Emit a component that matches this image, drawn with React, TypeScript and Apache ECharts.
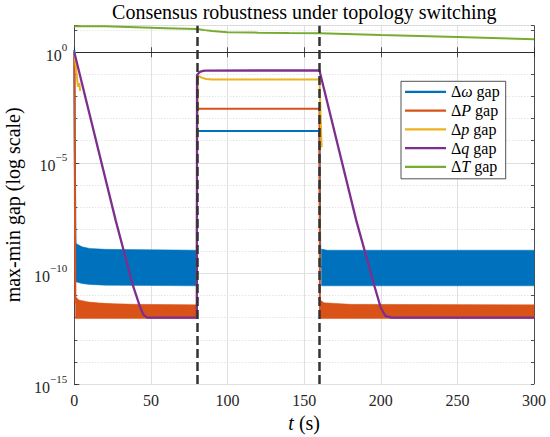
import React, { useEffect, useRef } from "react";
import * as echarts from "echarts";

// ---------- data (log scale) ----------
const SWITCH_TIMES = [80, 160];
const X_TICKS = [0, 300, 50]; // min, max, step
const Y_EXP_RANGE = [-15, 1.2]; // axis range in decades

const SERIES_NAMES = ["Δω gap", "ΔP gap", "Δp gap", "Δq gap", "ΔT gap"];
const SYMBOLS = ["ω", "P", "p", "q", "T"];

// Δω gap
const omegaT = [0, 0.8, 80, 80.1, 160, 160.5, 300];
const omegaV = [1.26, 2.5e-10, 2.0e-10, 2.75e-4, 2.75e-4, 2.0e-10, 2.0e-10];
const omegaBand1T = [0.9, 5, 10, 20, 80];
const omegaBand1Top = [2.3e-9, 1.6e-9, 1.35e-9, 1.23e-9, 1.12e-9];
const omegaBand1Bot = [4.2e-11, 3.5e-11, 3.16e-11, 2.95e-11, 2.75e-11];
const omegaBand2T = [161.3, 165, 300];
const omegaBand2Top = [1.26e-9, 1.12e-9, 1.12e-9];
const omegaBand2Bot = [2.75e-11, 2.75e-11, 2.75e-11];

// ΔP gap
const PT = [0, 0.7, 80, 80.1, 160, 160.3, 300];
const PV = [1.0, 5e-12, 2e-12, 2.8e-3, 2.8e-3, 2e-12, 2e-12];
const PBand1T = [0.8, 3, 10, 20, 40, 80];
const PBand1Top = [8.9e-12, 6.3e-12, 5.0e-12, 4.4e-12, 4.0e-12, 3.8e-12];
const PBand1Bot = [9.1e-13, 9.1e-13, 9.1e-13, 9.1e-13, 9.1e-13, 9.1e-13];
const PBand2T = [160.3, 163, 180, 300];
const PBand2Top = [6.3e-12, 4.7e-12, 4.0e-12, 3.8e-12];
const PBand2Bot = [9.1e-13, 9.1e-13, 9.1e-13, 9.1e-13];

// Δp gap (null = exact zero, not drawn on a log scale)
const pT = [0, 2.4, 3.3, 3.8, 40, 80.1, 80.6, 83, 86, 90, 160, 161.4];
const pV = [1.0, 0.028, 0.04, 0.018, null, 3.2e-5, 0.089, 0.071, 0.062, 0.058, 0.058, 5e-5];

// Δq gap
const qT = [0, 27, 38.5, 42.8, 45, 47.5, 80, 80.1, 82, 84, 86, 160, 184, 196, 200, 203, 207, 300];
const qV = [1.0, 2.5e-8, 2.5e-11, 3.2e-12, 1.4e-12, 1.0e-12, 1.0e-12, 0.093, 0.13, 0.145, 0.148, 0.151, 2.5e-8, 2.5e-11, 2.8e-12, 1.2e-12, 1.0e-12, 1.0e-12];

// ΔT gap
const TT = [0, 20, 40, 60, 80, 85, 90, 100, 120, 140, 160, 200, 250, 300];
const TV = [15.1, 14.8, 13.5, 12.3, 11.2, 10.0, 9.1, 8.1, 7.7, 7.4, 7.2, 6.0, 4.9, 3.9];

const COLORS = ["#0072BD", "#D95319", "#EDB120", "#7E2F8E", "#77AC30"];

// ---------- helpers ----------
const FONT = "Liberation Serif";
const AX = "#262626";
const lg = (v: number | null) => (v == null ? null : Math.log10(v));
const pairs = (t: number[], v: (number | null)[]) => t.map((x, i) => [x, lg(v[i])]);

type Seg = { t: number[]; top: number[]; bot: number[] };

function lineSeries(name: string, t: number[], v: (number | null)[], color: string, width = 2) {
  return {
    type: "line",
    name,
    data: pairs(t, v),
    symbol: "none",
    showSymbol: false,
    connectNulls: false,
    clip: true,
    lineStyle: { color, width },
    itemStyle: { color },
    silent: true,
  };
}

function bandSeries(name: string, segs: Seg[], color: string) {
  return {
    type: "custom",
    name,
    coordinateSystem: "cartesian2d",
    clip: true,
    silent: true,
    data: segs.map((s) => [s.t[0], lg(s.top[0])]),
    encode: { x: 0, y: 1 },
    renderItem: (params: any, api: any) => {
      const s = segs[params.dataIndex];
      const upper = s.t.map((x, k) => api.coord([x, lg(s.top[k])]));
      const lower = s.t.map((x, k) => api.coord([x, lg(s.bot[k])])).reverse();
      return {
        type: "polygon",
        shape: { points: upper.concat(lower) },
        style: { fill: color, stroke: color, lineWidth: 0.5 },
      };
    },
  };
}

const supLabel = (v: number) => {
  if (Math.abs(v % 5) > 1e-9 || v > 0.5) return "";
  const e = v === 0 ? "0" : "\u2212" + Math.abs(v);
  return `{b|10}{s|${e}}`;
};

export default function App() {
  const ref = useRef<HTMLDivElement>(null);

  useEffect(() => {
    document.body.style.margin = "0";
    if (!ref.current) return;
    const chart = echarts.init(ref.current, undefined, { renderer: "svg" });

    const minorColors = ["rgba(0,0,0,0)", "#cfcfcf", "#cfcfcf", "#cfcfcf", "#cfcfcf"];

    const option: any = {
      animation: false,
      backgroundColor: "#ffffff",
      textStyle: { fontFamily: FONT },
      grid: { left: 74.3, right: 16, top: 25.7, bottom: 53, containLabel: false, outerBoundsMode: "none" },
      graphic: [
        {
          type: "text",
          x: 304.3,
          y: 12,
          style: {
            text: "Consensus robustness under topology switching",
            fontFamily: FONT,
            fontSize: 20,
            fill: "#000",
            align: "center",
            verticalAlign: "middle",
          },
        },
      ],
      legend: {
        data: SERIES_NAMES,
        orient: "vertical",
        left: 401,
        top: 81.3,
        padding: [2.5, 6, 4, 4],
        icon: "rect",
        itemWidth: 41,
        itemHeight: 2.2,
        itemGap: 2.75,
        backgroundColor: "#ffffff",
        borderColor: AX,
        borderWidth: 0.8,
        selectedMode: false,
        formatter: (name: string) => {
          const i = SERIES_NAMES.indexOf(name);
          return `{n|Δ}{i|${SYMBOLS[i]}}{n| gap}`;
        },
        textStyle: {
          fontFamily: FONT,
          fontSize: 16,
          color: "#000",
          rich: {
            n: { fontFamily: FONT, fontSize: 16, color: "#000" },
            i: { fontFamily: FONT, fontSize: 16, fontStyle: "italic", color: "#000" },
          },
        },
      },
      xAxis: [
        {
          type: "value",
          position: "bottom",
          min: X_TICKS[0],
          max: X_TICKS[1],
          interval: X_TICKS[2],
          name: "{i|t}{n| (s)}",
          nameLocation: "middle",
          nameGap: 22,
          nameTextStyle: {
            fontFamily: FONT,
            fontSize: 20,
            color: "#000",
            rich: {
              n: { fontFamily: FONT, fontSize: 20, color: "#000" },
              i: { fontFamily: FONT, fontSize: 20, fontStyle: "italic", color: "#000" },
            },
          },
          axisLine: { show: true, lineStyle: { color: AX, width: 0.8 } },
          axisTick: { show: true, inside: true, length: 5, lineStyle: { color: AX, width: 0.8 } },
          axisLabel: { fontFamily: FONT, fontSize: 16, color: AX, margin: 8 },
          splitLine: { show: true, lineStyle: { color: "#e0e0e0", width: 1 } },
        },
        {
          type: "value",
          position: "top",
          min: X_TICKS[0],
          max: X_TICKS[1],
          interval: X_TICKS[2],
          axisLine: { show: true, lineStyle: { color: AX, width: 0.8 } },
          axisTick: { show: true, inside: true, length: 5, lineStyle: { color: AX, width: 0.8 } },
          axisLabel: { show: false },
          splitLine: { show: false },
        },
      ],
      yAxis: [
        {
          type: "value",
          position: "left",
          min: Y_EXP_RANGE[0],
          max: Y_EXP_RANGE[1],
          interval: 5,
          name: "max-min gap (log scale)",
          nameLocation: "middle",
          nameGap: 49,
          nameTextStyle: { fontFamily: FONT, fontSize: 20, color: "#000" },
          axisLine: { show: true, lineStyle: { color: AX, width: 0.8 } },
          axisTick: { show: true, inside: true, length: 5, lineStyle: { color: AX, width: 0.8 } },
          axisLabel: {
            margin: 7,
            fontFamily: FONT,
            formatter: supLabel,
            rich: {
              b: { fontFamily: FONT, fontSize: 16, color: AX, lineHeight: 22, verticalAlign: "bottom" },
              s: { fontFamily: FONT, fontSize: 11, color: AX, lineHeight: 11, verticalAlign: "top" },
            },
          },
          splitLine: { show: true, lineStyle: { color: "#e0e0e0", width: 1 } },
        },
        {
          type: "value",
          position: "left",
          min: Y_EXP_RANGE[0],
          max: Y_EXP_RANGE[1],
          interval: 1,
          axisLine: { show: false },
          axisTick: { show: true, inside: true, length: 3, lineStyle: { color: AX, width: 0.8 } },
          axisLabel: { show: false },
          splitLine: { show: true, lineStyle: { color: minorColors, width: 0.8, type: [1, 2] } },
        },
        {
          type: "value",
          position: "right",
          min: Y_EXP_RANGE[0],
          max: Y_EXP_RANGE[1],
          interval: 1,
          axisLine: { show: true, lineStyle: { color: AX, width: 0.8 } },
          axisTick: { show: true, inside: true, length: 3, lineStyle: { color: AX, width: 0.8 } },
          axisLabel: { show: false },
          splitLine: { show: false },
        },
      ],
      series: [
        lineSeries(SERIES_NAMES[0], omegaT, omegaV, COLORS[0]),
        bandSeries("omegaBand", [
          { t: omegaBand1T, top: omegaBand1Top, bot: omegaBand1Bot },
          { t: omegaBand2T, top: omegaBand2Top, bot: omegaBand2Bot },
        ], COLORS[0]),
        lineSeries(SERIES_NAMES[1], PT, PV, COLORS[1]),
        bandSeries("PBand", [
          { t: PBand1T, top: PBand1Top, bot: PBand1Bot },
          { t: PBand2T, top: PBand2Top, bot: PBand2Bot },
        ], COLORS[1]),
        lineSeries(SERIES_NAMES[2], pT, pV, COLORS[2]),
        lineSeries(SERIES_NAMES[3], qT, qV, COLORS[3], 2.3),
        {
          ...lineSeries(SERIES_NAMES[4], TT, TV, COLORS[4]),
          markLine: {
            silent: true,
            symbol: ["none", "none"],
            label: { show: false },
            lineStyle: { color: "#333333", width: 2.5, type: [9, 4] },
            data: SWITCH_TIMES.map((x) => ({ xAxis: x })),
          },
        },
      ],
    };

    chart.setOption(option);
    return () => chart.dispose();
  }, []);

  return <div ref={ref} style={{ width: 550, height: 437 }} />;
}
